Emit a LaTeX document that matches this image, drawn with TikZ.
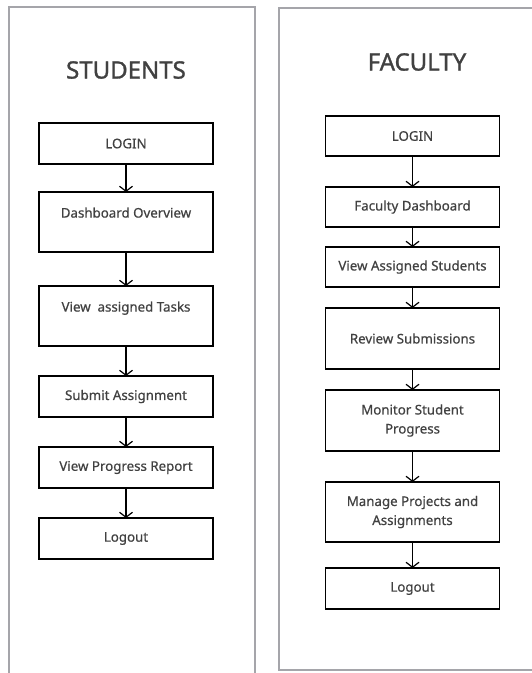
\documentclass[tikz,border=0pt]{standalone}
\usepackage{fontspec}
\setmainfont{Noto Sans}
\newfontfamily\boxfont{Noto Sans}[FakeBold=0.6]
\newfontfamily\titlefont{Noto Sans}[FakeBold=1.2]
\usepackage{tikz}
\usetikzlibrary{positioning,arrows.meta}
\definecolor{PanelGray}{RGB}{165,165,170}
\definecolor{TextGray}{RGB}{65,65,65}

\begin{document}
\begin{tikzpicture}[
x=1pt,y=-1pt,
panel/.style={draw=PanelGray,line width=1.3pt},
title/.style={text=TextGray,font=\titlefont\fontsize{24}{28}\selectfont},
box/.style={rectangle,draw=black,line width=1.4pt,minimum width=174pt,minimum height=41pt,inner sep=4pt,outer sep=0pt,align=center,text=TextGray,font=\boxfont\fontsize{13.3}{19}\selectfont},
topbox/.style={box,text height=21.6pt,text depth=30.4pt},
arrow/.style={-{Straight Barb[length=5pt,width=13pt]},line width=1.2pt,draw=black}
]
\useasboundingbox (0,0) rectangle (531,673);
% panels
\draw[panel] (9,690) -- (9,7) -- (255,7) -- (255,690);
\draw[panel] (545,8) -- (279,8) -- (279,670) -- (545,670);
% students
\node[title] (st) at (126,70) {STUDENTS};
\node[box,anchor=north] (s1) at (126,123) {LOGIN};
\node[topbox,below=28pt of s1] (s2) {Dashboard Overview};
\node[topbox,below=34pt of s2] (s3) {View\ \ assigned Tasks};
\node[box,below=30pt of s3] (s4) {Submit Assignment};
\node[box,below=30pt of s4] (s5) {View Progress Report};
\node[box,below=30pt of s5] (s6) {Logout};
% faculty
\node[title] (ft) at (417,62) {FACULTY};
\node[box,anchor=north,minimum height=40pt] (f1) at (412.5,116) {LOGIN};
\node[box,minimum height=40pt,below=31pt of f1] (f2) {Faculty Dashboard};
\node[box,minimum height=40pt,below=20pt of f2] (f3) {View Assigned Students};
\node[box,minimum height=61pt,below=21pt of f3] (f4) {Review Submissions};
\node[box,minimum height=61pt,below=21pt of f4] (f5) {Monitor Student\\Progress};
\node[box,minimum height=60pt,below=31pt of f5] (f6) {Manage Projects and\\Assignments};
\node[box,below=26pt of f6] (f7) {Logout};
\foreach \a/\b in {s1/s2,s2/s3,s3/s4,s4/s5,s5/s6,f1/f2,f2/f3,f3/f4,f4/f5,f5/f6,f6/f7}
  \draw[arrow] (\a) -- (\b);
\end{tikzpicture}
\end{document}
